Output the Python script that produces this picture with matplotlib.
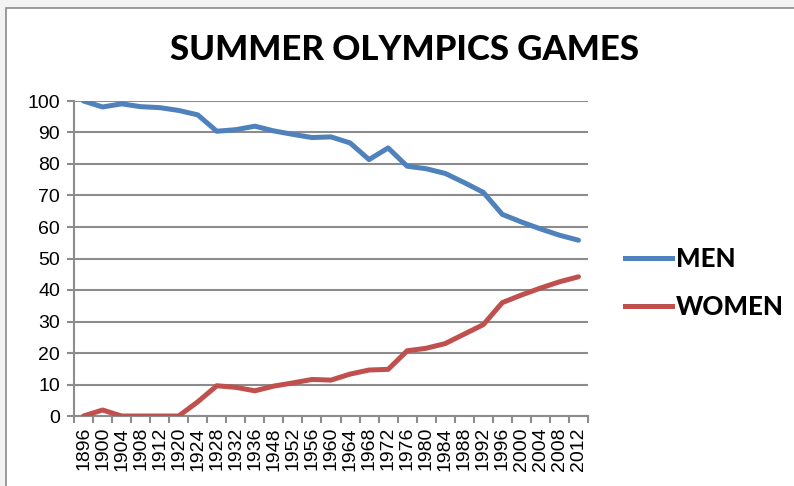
import numpy as np
import matplotlib
matplotlib.use("Agg")
from matplotlib import pyplot as plt
from matplotlib.patches import Rectangle
from matplotlib.lines import Line2D

# Share of participants (%) at the Summer Olympic Games
years = ['1896', '1900', '1904', '1908', '1912', '1920', '1924', '1928', '1932',
         '1936', '1948', '1952', '1956', '1960', '1964', '1968', '1972', '1976',
         '1980', '1984', '1988', '1992', '1996', '2000', '2004', '2008', '2012']
men = [100, 98.1, 99.1, 98.2, 97.9, 97.0, 95.6, 90.4, 90.9, 92.0, 90.5, 89.4,
       88.4, 88.6, 86.7, 81.4, 85.1, 79.3, 78.5, 77.0, 74.1, 71.0, 64.0, 61.6,
       59.4, 57.4, 55.8]
women = [0, 1.9, 0, 0, 0, 0, 4.5, 9.6, 9.1, 8.0, 9.5, 10.5, 11.6, 11.4, 13.3,
         14.6, 14.8, 20.7, 21.5, 23.0, 26.0, 29.0, 36.0, 38.4, 40.6, 42.6, 44.2]

blue = '#4F81BD'
red = '#C0504D'
grid_col = '#8C8C8C'

W, H = 794, 486
fig = plt.figure(figsize=(W / 100, H / 100), dpi=100, facecolor='#f3f3f3')

# chart frame
fig.patches.append(Rectangle((5.5 / W, -0.1), 1.2, (H - 8.5) / H + 0.1,
                             transform=fig.transFigure, facecolor='white',
                             edgecolor='#8a8a8a', lw=1.2, zorder=-5))

ax = fig.add_axes([74 / W, 1 - 416 / H, (588 - 74) / W, (416 - 101) / H])
ax.set_facecolor('none')

x = np.arange(len(years)) + 0.5
ax.plot(x, men, color=blue, lw=3.6, solid_capstyle='round', solid_joinstyle='round', zorder=3)
ax.plot(x, women, color=red, lw=3.6, solid_capstyle='round', solid_joinstyle='round', zorder=3)

ax.set_xlim(0, len(years))
ax.set_ylim(0, 100)
ax.set_yticks(np.arange(0, 101, 10))
ax.yaxis.grid(True, color=grid_col, lw=1.5)
ax.set_axisbelow(True)

# tick marks between categories, labels at the centres
ax.set_xticks(np.arange(len(years) + 1))
ax.set_xticklabels([])
ax.set_xticks(x, minor=True)
ax.set_xticklabels(years, minor=True, rotation=90, fontsize=14,
                   family='Liberation Sans')
ax.tick_params(axis='x', which='major', length=5, width=1.5, color=grid_col)
ax.tick_params(axis='x', which='minor', length=0, pad=8)
ax.tick_params(axis='y', length=5, width=1.5, color=grid_col, labelsize=14, pad=5)
for lab in ax.get_yticklabels():
    lab.set_family('Liberation Sans')

for s in ['top', 'right']:
    ax.spines[s].set_visible(False)
for s in ['left', 'bottom']:
    ax.spines[s].set_color(grid_col)
    ax.spines[s].set_linewidth(1.5)

fig.text(405 / W, 1 - 50 / H, 'SUMMER OLYMPICS GAMES', ha='center', va='center',
         fontsize=25, fontweight='black', family='Lato')

handles = [Line2D([], [], color=blue, lw=3.6), Line2D([], [], color=red, lw=3.6)]
fig.legend(handles, ['MEN', 'WOMEN'], loc='center left',
           bbox_to_anchor=(602 / W, 1 - 283 / H), frameon=False,
           prop={'family': 'Lato', 'weight': 'black', 'size': 18.6},
           handlelength=1.8, handletextpad=0.15, labelspacing=0.95)

fig.savefig('out.png', dpi=100, facecolor=fig.get_facecolor())
